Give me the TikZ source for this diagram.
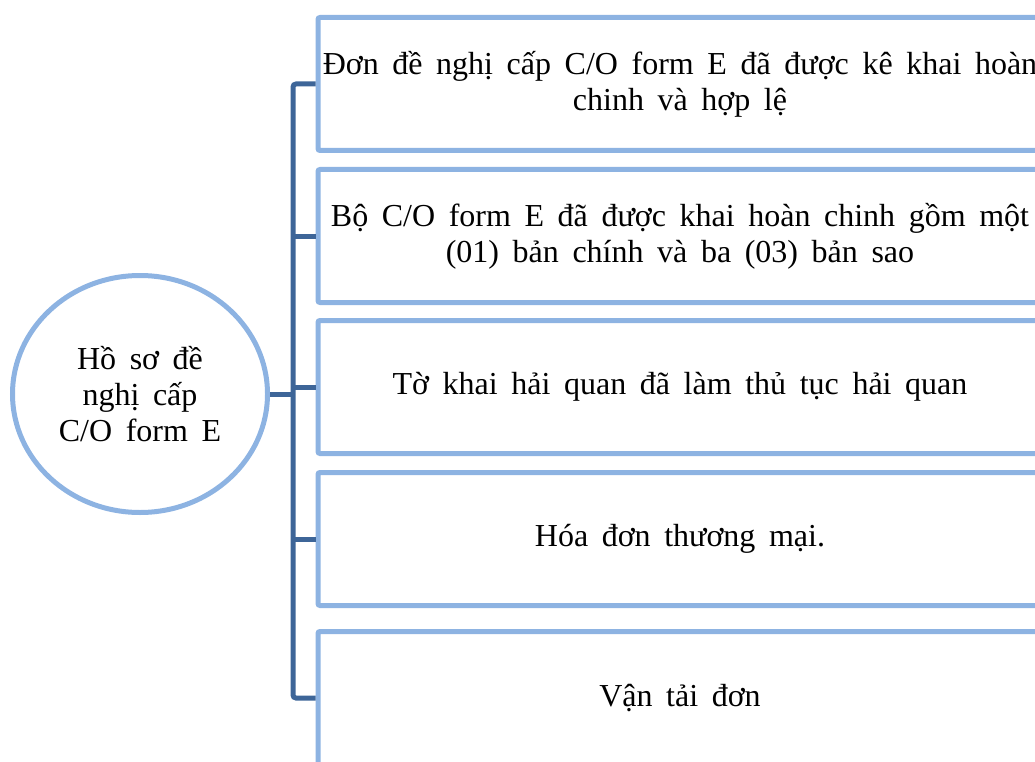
\documentclass[tikz,border=0pt]{standalone}
\usepackage{fontspec}
\setmainfont[WordSpace=1.7]{Liberation Serif}
\usetikzlibrary{shapes.geometric}
\definecolor{boxblue}{RGB}{141,179,226}
\definecolor{linkblue}{RGB}{61,101,152}
\tikzset{item/.style={draw=boxblue, line width=5pt, rounded corners=2pt, minimum width=724pt, minimum height=133pt, inner xsep=0pt, align=center, font=\fontsize{32}{36}\selectfont}}
\tikzset{hub/.style={ellipse, draw=boxblue, line width=5pt, minimum width=255pt, minimum height=237pt, inner sep=0pt, align=center, font=\fontsize{32}{36}\selectfont}}
\tikzset{link/.style={draw=linkblue, line width=5pt}}

\begin{document}
\begin{tikzpicture}[x=1pt, y=-1pt]
      \useasboundingbox (0,0) rectangle (1035,762);
      \clip (0,0) rectangle (1035,762);

      \node[hub] (hoso) at (140, 394) {Hồ sơ đề\\nghị cấp\\C/O form E};

      \node[item] (don) at (680, 84) {Đơn đề nghị cấp C/O form E đã được kê khai hoàn\\chinh và hợp lệ};
      \node[item] (bo) at (680, 236) {Bộ C/O form E đã được khai hoàn chinh gồm một\\(01) bản chính và ba (03) bản sao};
      \node[item] (tokhai) at (680, 387) {Tờ khai hải quan đã làm thủ tục hải quan};
      \node[item] (hoadon) at (680, 539) {Hóa đơn thương mại.};
      \node[item] (vandon) at (680, 698) {Vận tải đơn};

      \coordinate (bus) at (293, 394);

      \draw[link, rounded corners=3pt] (don.west) -- (don.west -| bus) -- (vandon.west -| bus) -- (vandon.west);
      \foreach \b in {bo, tokhai, hoadon}
        \draw[link] (\b.west -| bus) -- (\b.west);
      \draw[link] (hoso.east) -- (bus);
    \end{tikzpicture}
\end{document}
